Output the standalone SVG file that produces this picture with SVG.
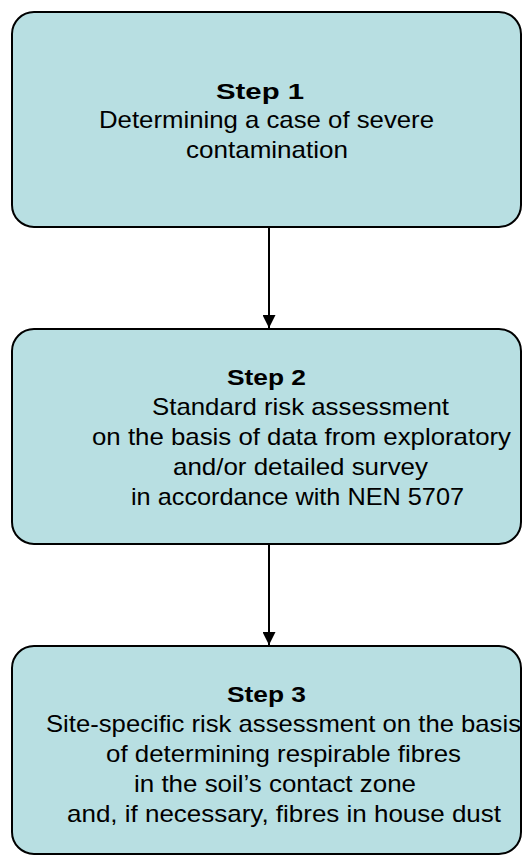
<svg xmlns="http://www.w3.org/2000/svg" width="528" height="856" viewBox="0 0 528 856">
  <style>
    .box { fill: #b8dfe2; stroke: #000; stroke-width: 2; }
    .edge { stroke: #000; stroke-width: 2; fill: none; }
    text { font-family: "Liberation Sans", Arial, sans-serif; font-size: 24px; fill: #000; }
    .head { font-weight: bold; font-size: 22px; }
  </style>
  <defs>
    <marker id="arrow" viewBox="0 0 13 13" refX="13" refY="6.5" markerWidth="13" markerHeight="13" markerUnits="userSpaceOnUse" orient="auto">
      <path d="M0,0 L13,6.5 L0,13 Z" fill="#000"/>
    </marker>
  </defs>
  <rect width="528" height="856" fill="#fff"/>

  <g id="step1">
    <rect class="box" x="12" y="12" width="509" height="215" rx="22" ry="22"/>
    <text class="head" x="216" y="99" textLength="88" lengthAdjust="spacingAndGlyphs">Step 1</text>
    <text x="99" y="128" textLength="335" lengthAdjust="spacingAndGlyphs">Determining a case of severe</text>
    <text x="186" y="158" textLength="162" lengthAdjust="spacingAndGlyphs">contamination</text>
  </g>

  <g id="step2">
    <rect class="box" x="12" y="329" width="509" height="215" rx="22" ry="22"/>
    <text class="head" x="227" y="385" textLength="79" lengthAdjust="spacingAndGlyphs">Step 2</text>
    <text x="152" y="415" textLength="297" lengthAdjust="spacingAndGlyphs">Standard risk assessment</text>
    <text x="92" y="445" textLength="419" lengthAdjust="spacingAndGlyphs">on the basis of data from exploratory</text>
    <text x="173" y="475" textLength="255" lengthAdjust="spacingAndGlyphs">and/or detailed survey</text>
    <text x="131" y="505" textLength="333" lengthAdjust="spacingAndGlyphs">in accordance with NEN 5707</text>
  </g>

  <g id="step3">
    <rect class="box" x="12" y="646" width="509" height="208" rx="22" ry="22"/>
    <text class="head" x="227" y="702" textLength="79" lengthAdjust="spacingAndGlyphs">Step 3</text>
    <text x="46" y="732" textLength="475" lengthAdjust="spacingAndGlyphs">Site-specific risk assessment on the basis</text>
    <text x="106" y="762" textLength="355" lengthAdjust="spacingAndGlyphs">of determining respirable fibres</text>
    <text x="134" y="792" textLength="282" lengthAdjust="spacingAndGlyphs">in the soil’s contact zone</text>
    <text x="67" y="822" textLength="434" lengthAdjust="spacingAndGlyphs">and, if necessary, fibres in house dust</text>
  </g>

  <g id="connectors">
    <line class="edge" x1="269" y1="227" x2="269" y2="328" marker-end="url(#arrow)"/>
    <line class="edge" x1="269" y1="544" x2="269" y2="645" marker-end="url(#arrow)"/>
  </g>
</svg>
